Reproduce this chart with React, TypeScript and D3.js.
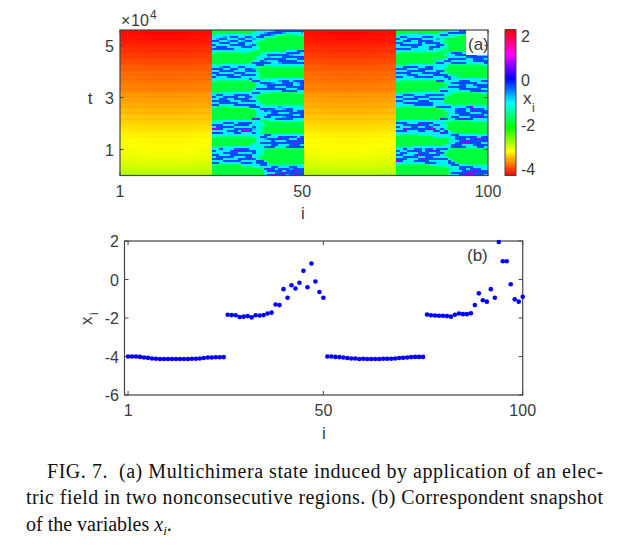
import React from "react";
import * as d3 from "d3";

const xTicks = [1, 50, 100];
const tTicks = [1, 3, 5];
const cbTicks = [2, 0, -2, -4];
const snapshotYTicks = [2, 0, -2, -4, -6];

// x_i snapshot, panel (b)
const snapshot1 = [-4.0, -4.0, -4.0, -4.02, -4.05, -4.07, -4.1, -4.12, -4.13, -4.13, -4.13, -4.13, -4.13, -4.13, -4.13, -4.13, -4.12, -4.12, -4.1, -4.08, -4.05, -4.05, -4.04, -4.04, -4.03];
const snapshot2 = [-1.83, -1.85, -1.86, -1.95, -1.93, -1.9, -1.97, -1.86, -1.87, -1.85, -1.77, -1.72, -1.3, -1.33, -0.5, -0.95, -0.3, -0.47, -0.17, 0.45, -0.4, 0.83, -0.1, -0.65, -0.95];
const snapshot3 = [-4.0, -4.0, -4.02, -4.03, -4.05, -4.08, -4.1, -4.1, -4.13, -4.12, -4.13, -4.13, -4.13, -4.13, -4.12, -4.12, -4.12, -4.1, -4.08, -4.07, -4.05, -4.03, -4.02, -4.02, -4.02];
const snapshot4 = [-1.82, -1.86, -1.87, -1.88, -1.88, -1.9, -1.93, -1.83, -1.77, -1.8, -1.8, -1.75, -1.33, -0.72, -1.08, -1.15, -0.5, -0.95, 1.95, 0.95, 0.95, -0.25, -1.03, -1.15, -0.9];

// x_i in the driven regions, one value per row of the heat map, top row first
const drivenRows = [
  -4.25, -4.27, -4.24, -4.22, -4.23, -4.2,
  -4.18, -4.15, -4.13, -4.1, -4.12, -4.07, -4.05, -4.06, -4.0, -3.98,
  -3.98, -3.94, -3.9, -3.93, -3.88, -3.84, -3.87, -3.82, -3.84, -3.8,
  -3.79, -3.76, -3.74, -3.77, -3.72, -3.69, -3.64, -3.66, -3.6, -3.62,
  -3.58, -3.56, -3.59, -3.52, -3.5, -3.53, -3.46, -3.44, -3.47, -3.42,
  -3.4, -3.38, -3.35, -3.34, -3.3, -3.28, -3.25, -3.27, -3.22, -3.23,
  -3.22, -3.21, -3.2, -3.18, -3.17, -3.15, -3.15, -3.12, -3.1, -3.08,
  -3.06, -3.03, -3.0, -2.96, -2.92, -2.89, -2.86,
];

// levels of the undriven regions, as letters in the two grids below
const levelNames = ["G", "g", "t", "c", "s", "b", "p"];
const levelValues = [-1.85, -1.6, -1.25, -0.95, -0.65, -0.25, 0.7];

const regionA = [
  "GGGGGGGGGGGGtcccsbbbbbbbb", "GGGGGGGGGGGtccsbbbbsccccc", "gtttccccctttcbbbscctgggtt", "tccscbbccbbcbbcctgGGGGGGG",
  "csbbcccbbccsccgGGGGGGGGGG", "bbccsbbcsbbctgGGGGGGGGGGG", "ccbbbccbbcccgGGGGGGGGGGGG", "bccccbbbbcsbgGGGGGGGGGGGG",
  "cbbbccccbbbctGGGGGGGGGGGG", "bbbbbbcccccctGGGGGGGGGGGG", "cccccccccctgGgGGGGGGtccbb", "tgggggggggGGGgtcccccbbbbc",
  "GGGGGGGGGGGGGtcbbbbbbsccc", "GGGGGGGGGGGGtccscccbbbbbb", "GGGGGGGGGGGGtcbbbbbbcccbb", "GGGGGGGGGGGtcbscccbbbbbcc",
  "GGGGGGGGGGgbbbbbccsbbbbbb", "tgtcccccctccbbcccccctcccc", "ccsbbccbbccctgggggggggggg", "bbbccbbccbbsgGGGGGGGGGGGG",
  "ccbbbbcccbbbgGGGGGGGGGGGG", "bbccccbbbccctGGGGGGGGGGGG", "cbbbbbccbbbbtGGGGGGGGGGGG", "bcccbbbbcccctgGGGGGGGGGGG",
  "ccccccccccbctgtttccccccct", "tggggggggggbbctcccsbbcbbb", "GGGGGGGGGGGGcbbbsccbbbcsb", "GGGGGGGGGGGGtcsbbbbbbbccb",
  "GGGGGGGGGGGGcccbbcccbbbbb", "GGGGGGGGGGGgbbbbbbbbcccbb", "GGGGGGGGGGgtcccccccbbbbcc", "gggtttcccctbbcttgggggggtt",
  "cbbcccbbbbcctgGGGGGGGGGGG", "bccbbbbccbbcgGGGGGGGGGGGG", "ccbbccbbbbccgGGGGGGGGGGGG", "bbbbbcccbbbbtGGGGGGGGGGGG",
  "ccbbbbbccccctgGGGGGGGGGGG", "bbccccbbbbbbccggggggggggg", "tgggtttcccbbbtccccsccccct", "GGGGGGGGGGgtcbbbbccsbbccc",
  "GGGGGGGGGGGGccbsbbbbbbcbb", "GGGGGGGGGGGGtcccbbcccbbbb", "GGGGGGGGGGGGtccbbbbbbbccb", "GGGGGGGGGGGGtcbbcccsbbbbb",
  "GGGGGGGGGGGpptcccbbbbbccc", "gtttcccccctccgggtttcccctt", "cccbbbcbbbbcctGGGGGGGGGGG", "bbbcccbbbbccccgGGGGGGGGGG",
  "cbbbbbcccccbcgGGGGGGGGGGG", "ppbcccbbbbbscgGGGGGGGGGGG", "ccccbbbcppbcctGGGGGGGGGGG", "bbbcccbbcccbcgGGGGGGGGGGG",
  "ccccccccccccctbbtccctcccc", "tggggggggggtcbbcccbbbbbcb", "GGGGGGGGGGGGtcsbbbpbbccpb", "GGGGGGGGGGGGtcccbcccbbbbb",
  "GGGGGGGGGGGgcbbbbbbbbbpbb", "GGGGGGGGGGgctcccbbcccbbbc", "gggtttcccccctcbbbcccbbbbb", "ccbcccbbbbccctggggggggggg",
  "bccccbppbbbbttGGGGGGGGGGG", "cccbbbbccccbctGGGGGGGGGGG", "bbcccbbbbbbcctGGGGGGGGGGG", "cbbbbbcccbpctGGGGGGGGGGGG",
  "bbbccccbbbbbtGGGGGGGGGGGG", "cccbbbbbccccbbgGGGGGGGGGG", "bbccccccbbbcbbbgGGGGGGGGG", "tgggggggcccctbbtgggggggtt",
  "GGGGGGGGgggtccccbbcccbbcc", "GGGGGGGGGGGGGgbbbcbbbsbbb", "GGGGGGGGGGGGGGcpbbbcbbpbb", "GGGGGGGGGGGGGGcccbbpbbbbb",
  "GGGGGGGGGGGGGGtbpbbbcbpbb",
];
const regionB = [
  "GGGGGGGGGGGGGGtccbbbbbbcc", "GGGGGGGGGGGGtcbbbbbbccccc", "gtttccccctttbbccctggggttt", "cbbccccbbbccccctgGGGGGGGG",
  "bccbbbbccccscgGGGGGGGGGGG", "ccbbccbbbbcctgGGGGGGGGGGG", "bbccccbcbbbbcgGGGGGGGGGGG", "cbbbbbbccccbbtGGGGGGGGGGG",
  "ccccbbcccbbbctGGGGGGGGGGG", "bbbbcccccbcctgGGGGGGGGGGG", "ccccccccctttggGGGGGgtccbb", "tggggggggggGGgtbbbcccccbb",
  "GGGGGGGGGGGGGtccbbbbbbccc", "GGGGGGGGGGGGGGcccccbbbbbb", "GGGGGGGGGGGGgtbbbbbccbbbc", "GGGGGGGGGGGgcbbccccccbbbb",
  "GGGGGGGGGGgbbccbbbbcccccb", "gggtcccccttcccgggggggggtt", "ccbbbbccbbccctGGGGGGGGGGG", "bbbcccbbbbcccgGGGGGGGGGGG",
  "cccbbbbbcccbbgGGGGGGGGGGG", "bbbbcccbbbbbctGGGGGGGGGGG", "cccbbbccccbbbbtGGGGGGGGGG", "bbcccbbbbbcccbbcgGGGGGGGG",
  "ccccccccccccctbccttcccctt", "tggggggggggbbctccbbbcccbb", "GGGGGGGGGGGGGtcbbbbbbbccc", "GGGGGGGGGGGGGGcccbbccbbbb",
  "GGGGGGGGGGGGGgbbbbbcccbbb", "GGGGGGGGGGGGctcccbbbbbbcc", "GGGGGGGGGGggbbccccccbbbbb", "ggggtttcccccccctgggggggtt",
  "ccbbbcccbbbbbctGGGGGGGGGG", "bbcccbbbbccccgGGGGGGGGGGG", "ccbbbbcccbbbbgGGGGGGGGGGG", "bbccccbbbccctGGGGGGGGGGGG",
  "ccbpbbbbbbcctGGGGGGGGGGGG", "cccccbbbbbcccctgggggggggg", "tggggtttcccbbbbtcccbpcccc", "GGGGGGGGGGGgtcccbbbcbbbbc",
  "GGGGGGGGGGGGGtccbbbcbpbbb", "GGGGGGGGGGGGGGtcbbbbcccbb", "GGGGGGGGGGGGGgcccbbbbbbbc", "GGGGGGGGGGGGGgtbbcccbbpbb",
  "GGGGGGGGGGGGpbtcbppbbcccc", "gtttccccctcccttgggggtttcc", "bbbcccbbbbcccgGGGGGGGGGGG", "ccbbbbpbbcbbctGGGGGGGGGGG",
  "bcccbbccbbccctGGGGGGGGGGG", "ccpbbbbbbpbcbgGGGGGGGGGGG", "bbbcccbbccpbcbtGGGGGGGGGG", "ccccccccccccpbcgGGGGGGGGG",
  "tgggggttccccctcbbtcccttcc", "GGGGGGGGGGtcctccbbbbbbcbb", "GGGGGGGGGGGGGGgcbbbcbbpbb", "GGGGGGGGGGGGGGtccbbpbbbbb",
  "GGGGGGGGGGGGGGgcbpppbbbcc", "GGGGGGGGGGGGGtcbbbcccbbbb", "ggggtttcccccctcbbbbcccbbc", "ccbccbbcbbcbbbtgggggggggg",
  "bccbpbbcbpbbctGGGGGGGGGGG", "cbbcccbbbccbbgGGGGGGGGGGG", "bbcccbpbbbpbcgGGGGGGGGGGG", "ccbbbbccbbccctGGGGGGGGGGG",
  "bbbcccbpbbbbbbtGGGGGGGGGG", "pbcccbbbbcccccbgGGGGGGGGG", "ccccccccbbbcccbbgGGGGGGGG", "tggggggggtccctcbbtcgggggt",
  "GGGGGGGGGGGggtcccbbbbcccc", "GGGGGGGGGGGGGGgccbbcbbbcc", "GGGGGGGGGGGGGGtcccbbbpbbb", "GGGGGGGGGGGGGGgbbbbppbbbb",
  "GGGGGGGGGGGGGGtccbpppbbbc",
];

const captionLines = [
  "FIG. 7.  (a) Multichimera state induced by application of an elec-",
  "tric field in two nonconsecutive regions. (b) Correspondent snapshot",
];

const SANS = "'Liberation Sans', Arial, sans-serif";
const SERIF = "'Liberation Serif', 'Times New Roman', serif";
const AXIS = "#444444";
const TEXT = "#3a3a3a";

// Panel (a)
const ax = d3.scaleLinear().domain([1, 100]).range([120, 488]);
const at = d3.scaleLinear().domain([0, 5.6]).range([175.5, 30]);
const rowY = d3.scaleBand<number>().domain(d3.range(drivenRows.length)).range([30, 175.5]);
const colour = d3.scaleLinear().domain([-4.3, 2.27]).range([0, 360]).clamp(true);
const fill = (v: number) => d3.hsl(colour(v), 1, 0.5).formatHex();
// Colour bar
const cy = d3.scaleLinear().domain([-4.3, 2.27]).range([175.5, 30]);
const barValues = d3.range(-4.3, 2.27, 0.05);
// Panel (b)
const bx = d3.scaleLinear().domain([0.1, 100]).range([124.5, 522.7]);
const by = d3.scaleLinear().domain([-6, 2]).range([395, 241]);

const snapshot = [...snapshot1, ...snapshot2, ...snapshot3, ...snapshot4];

function cellValue(i: number, r: number): number {
  if (i <= 25) return drivenRows[r] + (snapshot1[i - 1] + 4.08) * 0.15;
  if (i >= 51 && i <= 75) return drivenRows[r] + (snapshot3[i - 51] + 4.08) * 0.15;
  const grid = i <= 50 ? regionA : regionB;
  const col = i <= 50 ? i - 26 : i - 76;
  const ch = grid[r][col] ?? "G";
  return levelValues[levelNames.indexOf(ch)];
}

const columns = d3.range(1, 101);
const rows = d3.range(drivenRows.length);
const cellW = (ax.range()[1] - ax.range()[0]) / 100;

export default function App() {
  return (
    <svg
      width={623}
      height={556}
      viewBox="0 0 623 556"
      style={{ position: "absolute", left: 0, top: 0, background: "#fff" }}
    >
      <defs>
        <filter id="soft" x="0" y="0" width="100%" height="100%">
          <feGaussianBlur stdDeviation="0.5" />
        </filter>
        <clipPath id="heatClip">
          <rect x={120} y={30} width={368} height={145.5} />
        </clipPath>
      </defs>

      {/* Panel (a) heat map */}
      <g clipPath="url(#heatClip)">
        <g filter="url(#soft)" shapeRendering="crispEdges">
          {columns.map((i) =>
            rows.map((r) => (
              <rect
                key={`${i}-${r}`}
                x={120 + (i - 1) * cellW}
                y={rowY(r)}
                width={cellW + 0.5}
                height={rowY.bandwidth() + 0.5}
                fill={fill(cellValue(i, r))}
              />
            ))
          )}
        </g>
      </g>
      <rect x={466} y={30} width={22} height={25} fill="#fff" />
      <text x={468} y={50} fontFamily={SANS} fontSize={17} fill={TEXT}>(a)</text>
      <rect x={120} y={30} width={368} height={145.5} fill="none" stroke={AXIS} strokeWidth={1.2} />
      {xTicks.map((t) => (
        <g key={t} stroke={AXIS} strokeWidth={1}>
          <line x1={ax(t)} x2={ax(t)} y1={175.5} y2={172} />
          <line x1={ax(t)} x2={ax(t)} y1={30} y2={33.5} />
        </g>
      ))}
      {tTicks.map((t) => (
        <g key={t} stroke={AXIS} strokeWidth={1}>
          <line x1={120} x2={123.5} y1={at(t)} y2={at(t)} />
          <line x1={488} x2={484.5} y1={at(t)} y2={at(t)} />
        </g>
      ))}
      <g fontFamily={SANS} fontSize={16} fill={TEXT}>
        {xTicks.map((t) => (
          <text key={t} x={ax(t)} y={197} textAnchor="middle">{t}</text>
        ))}
        {tTicks.map((t) => (
          <text key={t} x={114} y={at(t) + 6} textAnchor="end">{t}</text>
        ))}
        <text x={303} y={219} textAnchor="middle" fontSize={17}>i</text>
        <text x={90} y={104} textAnchor="middle" fontSize={17}>t</text>
        <text x={121} y={26} fontSize={16}>×</text>
        <text x={131} y={26}>10</text>
        <text x={150} y={19} fontSize={12}>4</text>
      </g>

      {/* Colour bar */}
      <g shapeRendering="crispEdges">
        {barValues.map((v) => (
          <rect key={v} x={505} width={11} y={cy(v + 0.05)} height={cy(v) - cy(v + 0.05) + 0.6} fill={fill(v)} />
        ))}
      </g>
      <rect x={505} y={30} width={11} height={145.5} fill="none" stroke={AXIS} strokeWidth={1} />
      <g fontFamily={SANS} fontSize={16} fill={TEXT}>
        {cbTicks.map((t) => (
          <text key={t} x={521} y={cy(t) + 6}>{t}</text>
        ))}
        <text x={523} y={104} fontSize={17}>x</text>
        <text x={532} y={112} fontSize={12}>i</text>
      </g>

      {/* Panel (b) */}
      <rect x={124.5} y={241} width={398.2} height={154} fill="none" stroke={AXIS} strokeWidth={1.2} />
      {xTicks.map((t) => (
        <g key={t} stroke={AXIS} strokeWidth={1}>
          <line x1={bx(t)} x2={bx(t)} y1={395} y2={391} />
          <line x1={bx(t)} x2={bx(t)} y1={241} y2={245} />
        </g>
      ))}
      {snapshotYTicks.map((t) => (
        <g key={t} stroke={AXIS} strokeWidth={1}>
          <line x1={124.5} x2={128.5} y1={by(t)} y2={by(t)} />
          <line x1={522.7} x2={518.7} y1={by(t)} y2={by(t)} />
        </g>
      ))}
      <g fill="#0000f5">
        {snapshot.map((v, k) => (
          <circle key={k} cx={bx(k + 1)} cy={by(v)} r={2.3} />
        ))}
      </g>
      <g fontFamily={SANS} fontSize={16} fill={TEXT}>
        {xTicks.map((t) => (
          <text key={t} x={bx(t)} y={416} textAnchor="middle">{t}</text>
        ))}
        {snapshotYTicks.map((t) => (
          <text key={t} x={119} y={by(t) + 6} textAnchor="end">{t}</text>
        ))}
        <text x={324} y={439} textAnchor="middle" fontSize={17}>i</text>
        <text x={467} y={261} fontSize={17}>(b)</text>
        <text transform="translate(92,325) rotate(-90)" fontSize={17}>x</text>
        <text transform="translate(98,315) rotate(-90)" fontSize={12}>i</text>
      </g>

      {/* Caption */}
      <g fontFamily={SERIF} fontSize={20} fill="#111">
        <text x={47} y={478} xmlSpace="preserve" textLength={556} lengthAdjust="spacing">{captionLines[0]}</text>
        <text x={26} y={504} textLength={577} lengthAdjust="spacing">{captionLines[1]}</text>
        <text x={26} y={531}>
          of the variables <tspan fontStyle="italic">x</tspan>
          <tspan fontStyle="italic" fontSize={13} dy={4}>i</tspan>
          <tspan dy={-4}>.</tspan>
        </text>
      </g>
    </svg>
  );
}
